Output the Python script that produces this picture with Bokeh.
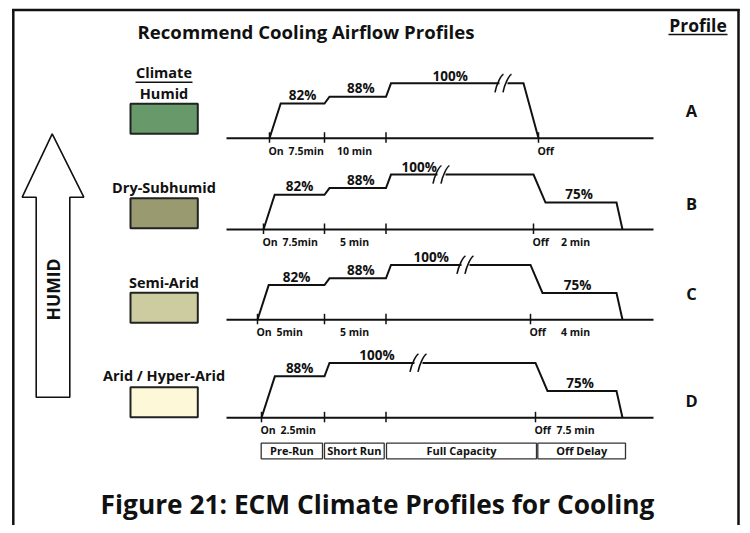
import math
from bokeh.plotting import figure
from bokeh.models import Range1d
from bokeh.embed import file_html
from bokeh.resources import INLINE
from bokeh.core.properties import value

# ---------------- data ----------------
profiles = ["A", "B", "C", "D"]
climates = ["Humid", "Dry-Subhumid", "Semi-Arid", "Arid / Hyper-Arid"]
climate_colors = ["#67996b", "#9a9a70", "#cdcca0", "#fdf9d8"]
phases = ["Pre-Run", "Short Run", "Full Capacity", "Off Delay"]
pre_run_pct = [82, 82, 82, 88]
pre_run_time = ["7.5min", "7.5min", "5min", "2.5min"]
short_run_pct = [88, 88, 88, 100]
short_run_time = ["10 min", "5 min", "5 min", ""]
full_pct = [100, 100, 100, 100]
off_delay_pct = [0, 75, 75, 75]
off_delay_time = ["", "2 min", "4 min", "7.5 min"]

title_text = "Recommend Cooling Airflow Profiles"
caption_text = "Figure 21: ECM Climate Profiles for Cooling"

# ---------------- layout (reference-picture pixel space) ----------------
W, H = 742, 525
FONT = value("Open Sans")
INK = "#111111"
ROW_BASE = [137.7, 229.0, 319.3, 417.3]
ON_X = [269, 263, 257, 261]
OFF_X = [538, 533, 530, 535]
BREAK_X = [503, 441, 465, 418]
LETTER_Y = [110, 202.5, 292.7, 400]
CLIMATE_Y = [93, 186.5, 282, 375]
SWATCH_TOP = [103.3, 197.7, 292.3, 386.7]
T1, T2 = 324, 385.5
OFF_END = 616
AXIS_X0, AXIS_X1 = 226, 653


def X(v):
    return v


def Y(v):
    return H - v


def lift(pct):
    """schematic height above the baseline for an airflow percentage"""
    return 0 if pct <= 0 else (pct - 51) * 1.12


p = figure(width=W, height=H, x_range=Range1d(0, W), y_range=Range1d(0, H),
           output_backend="svg", toolbar_location=None, min_border=0,
           x_axis_type=None, y_axis_type=None, title=None)
p.grid.visible = False
p.outline_line_color = None
p.background_fill_color = "white"
p.border_fill_color = "white"


def seg(x0, y0, x1, y1, width, color=INK):
    p.segment(x0=[X(a) for a in x0], y0=[Y(a) for a in y0],
              x1=[X(a) for a in x1], y1=[Y(a) for a in y1],
              line_color=color, line_width=width)


def txt(x, y, s, size, align="center", angle=0):
    p.text(x=[X(x)], y=[Y(y)], text=[s], text_font=FONT, text_font_style="bold",
           text_font_size=f"{size}px", text_align=align, text_baseline="middle",
           text_color=INK, angle=angle)


# outer frame (left, right, top)
seg([12.8, 738, 11.6], [8.5, 8.5, 9.5], [12.8, 738, 739.2], [540, 540, 9.5], 2.5)

# headings
txt(305.5, 31, title_text, 18.6)
txt(697.5, 24.5, "Profile", 17.5)
seg([668], [34], [727], [34], 1.5)
txt(163.5, 72, "Climate", 14.5)
seg([135], [81.7], [192], [81.7], 1.5)

# humid arrow
arrow_x = [51.7, 83.3, 69.3, 69.3, 35.7, 35.7, 21.7]
arrow_y = [133.3, 196.7, 196.7, 396.7, 396.7, 196.7, 196.7]
p.patch([X(a) for a in arrow_x], [Y(a) for a in arrow_y],
        fill_color="white", line_color=INK, line_width=1.6)
txt(52.5, 289, "HUMID", 17.5, angle=math.pi / 2)

# climate labels and swatches
for i in range(4):
    txt(163.5, CLIMATE_Y[i], climates[i], 14.5)
    p.quad(left=[X(130)], right=[X(197.3)], top=[Y(SWATCH_TOP[i])],
           bottom=[Y(SWATCH_TOP[i] + 30)],
           fill_color=climate_colors[i], line_color="#222222", line_width=2)
    txt(691, LETTER_Y[i], profiles[i], 16.5)

# profiles
for i in range(4):
    yb = ROW_BASE[i]
    on, off, bx = ON_X[i], OFF_X[i], BREAK_X[i]
    y_pre = yb - lift(pre_run_pct[i])
    y_short = yb - lift(short_run_pct[i])
    y_full = yb - lift(full_pct[i])
    y_off = yb - lift(off_delay_pct[i])

    seg([AXIS_X0], [yb], [AXIS_X1], [yb], 2)
    tx = [on, T1, T2, off]
    seg(tx, [yb - 6] * 4, tx, [yb + 4.5] * 4, 1.5)

    pre_end = on + lift(pre_run_pct[i]) / 3.1
    xs1 = [on, pre_end, T1, T1 + 5]
    ys1 = [yb, y_pre, y_pre, y_short]
    if short_run_pct[i] != full_pct[i]:
        xs1 += [T2, T2 + 5]
        ys1 += [y_short, y_full]
    xs1 += [bx - 4]
    ys1 += [y_full]
    if off_delay_pct[i] > 0:
        xs2 = [bx + 4, off, off + 12, OFF_END, OFF_END + 6]
        ys2 = [y_full, y_full, y_off, y_off, yb]
    else:
        xs2 = [bx + 4, off - 15, off]
        ys2 = [y_full, y_full, yb]
    p.multi_line(xs=[[X(a) for a in xs1], [X(a) for a in xs2]],
                 ys=[[Y(a) for a in ys1], [Y(a) for a in ys2]],
                 line_color=INK, line_width=2, line_join="miter")

    for dx in (-4, 4):
        c = bx + dx
        p.bezier(x0=[X(c - 4.5)], y0=[Y(y_full + 9)], x1=[X(c + 4)], y1=[Y(y_full - 9)],
                 cx0=[X(c - 3)], cy0=[Y(y_full + 1)], cx1=[X(c + 1.5)], cy1=[Y(y_full - 8)],
                 line_color=INK, line_width=1.6)

    # percentage labels (centre of digits ~8px above the level)
    txt((pre_end + T1) / 2, y_pre - 8.3, f"{pre_run_pct[i]}%", 13.5)
    if short_run_pct[i] != full_pct[i]:
        txt((T1 + 5 + T2) / 2 + 3, y_short - 8.3, f"{short_run_pct[i]}%", 13.5)
        full_start = T2 + 5
    else:
        full_start = T1 + 5
    txt((full_start + bx - 8) / 2 + 7, y_full - 7.8, f"{full_pct[i]}%", 13.5)
    if off_delay_pct[i] > 0:
        txt((off + 12 + OFF_END) / 2 - 2, y_off - 8.3, f"{off_delay_pct[i]}%", 13.5)

    # time labels
    tl = yb + 12.5
    txt(on - 1, tl, "On", 10.5, align="left")
    txt(on + 19, tl, pre_run_time[i], 10.5, align="left")
    if short_run_time[i]:
        txt(354, tl, short_run_time[i], 10.5)
    txt(off - 1, tl, "Off", 10.5, align="left")
    if off_delay_time[i]:
        txt(575, tl, off_delay_time[i], 10.5)

# phase boxes
box_l = [260.7, 324, 386, 537.3]
box_r = [322, 383.7, 536, 625]
p.quad(left=[X(a) for a in box_l], right=[X(a) for a in box_r],
       top=[Y(442.7)] * 4, bottom=[Y(458.3)] * 4,
       fill_color="white", line_color="#333333", line_width=1.3)
for i in range(4):
    txt((box_l[i] + box_r[i]) / 2, 450.3, phases[i], 11)

# caption
txt(377, 503, caption_text, 26.3)

open("out.html", "w").write(file_html(p, INLINE))
